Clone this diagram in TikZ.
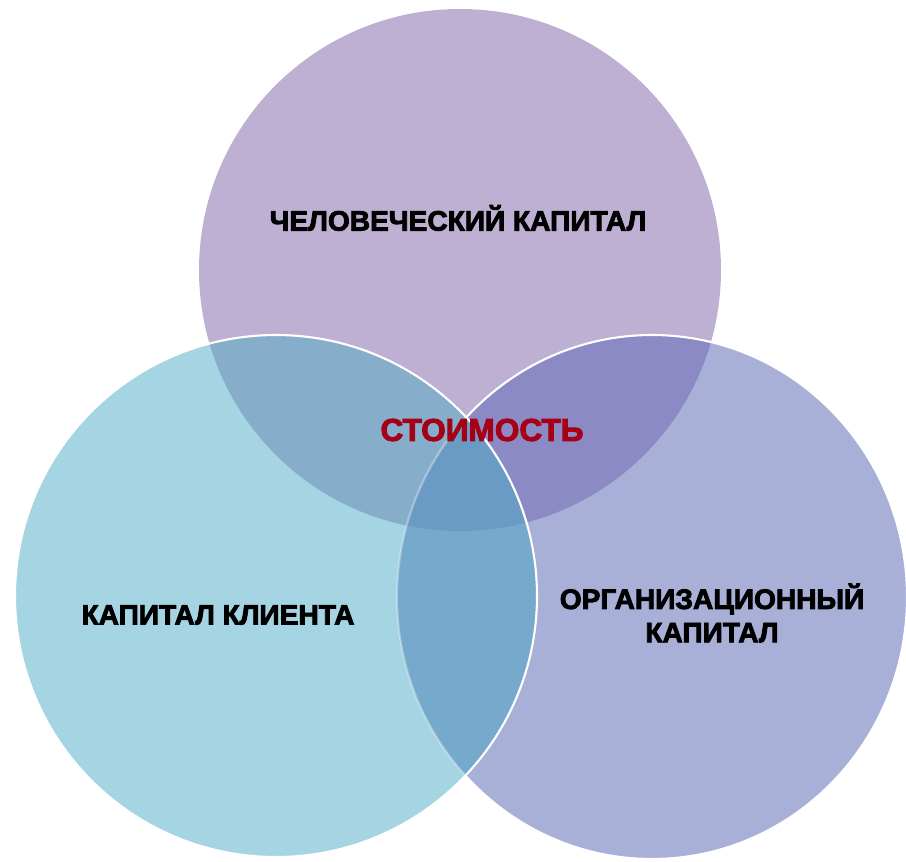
\documentclass[tikz,border=0pt]{standalone}
\usepackage{fontspec}
\newfontfamily\heavy[BoldFeatures={FakeBold=3}]{Liberation Sans}

\definecolor{humanfill}{RGB}{189,176,210}
\definecolor{clientfill}{RGB}{165,212,227}
\definecolor{orgfill}{RGB}{169,176,216}
\definecolor{humanclient}{RGB}{134,174,203}
\definecolor{humanorg}{RGB}{140,138,196}
\definecolor{clientorg}{RGB}{118,170,205}
\definecolor{allthree}{RGB}{105,155,197}
\definecolor{valuered}{RGB}{165,0,22}

\def\humancirc{(460,270) circle [radius=261]}
\def\clientcirc{(276,596) circle [radius=261]}
\def\orgcirc{(652,597) ellipse [x radius=255, y radius=262]}

\tikzset{
  caption/.style={font=\heavy\bfseries\fontsize{16}{19}\selectfont, text=black, align=center, inner sep=0pt},
  rim/.style={draw=white, line width=1.2pt}
}

\begin{document}
\begin{tikzpicture}[x=0.02cm, y=-0.02cm]
	\useasboundingbox (0,0) rectangle (906,862);
	
	% Kreise
	\fill[humanfill] \humancirc;
	\fill[clientfill] \clientcirc;
	\fill[orgfill] \orgcirc;
	
	% Schnittflaechen
	\begin{scope}
		\clip \humancirc;
		\fill[humanclient] \clientcirc;
		\fill[humanorg] \orgcirc;
	\end{scope}
	\begin{scope}
		\clip \clientcirc;
		\fill[clientorg] \orgcirc;
		\clip \orgcirc;
		\fill[allthree] \humancirc;
	\end{scope}
	
	% weisse Raender
	\begin{scope}[even odd rule]
		\clip (0,0) rectangle (906,862) \clientcirc;
		\draw[rim] \orgcirc;
	\end{scope}
	\begin{scope}
		\clip \clientcirc;
		\draw[rim, draw opacity=0.35] \orgcirc;
	\end{scope}
	\draw[rim] \clientcirc;
	
	% Beschriftung
	\node[caption] (human) at (458,218) {ЧЕЛОВЕЧЕСКИЙ КАПИТАЛ};
	\node[caption] (client) at (218,615) {КАПИТАЛ КЛИЕНТА};
	\node[caption] (org) at (712,613) {ОРГАНИЗАЦИОННЫЙ\\КАПИТАЛ};
	\node[caption, text=valuered, font=\heavy\bfseries\fontsize{18}{21}\selectfont] (value) at (482,430) {СТОИМОСТЬ};
	
\end{tikzpicture}
\end{document}
